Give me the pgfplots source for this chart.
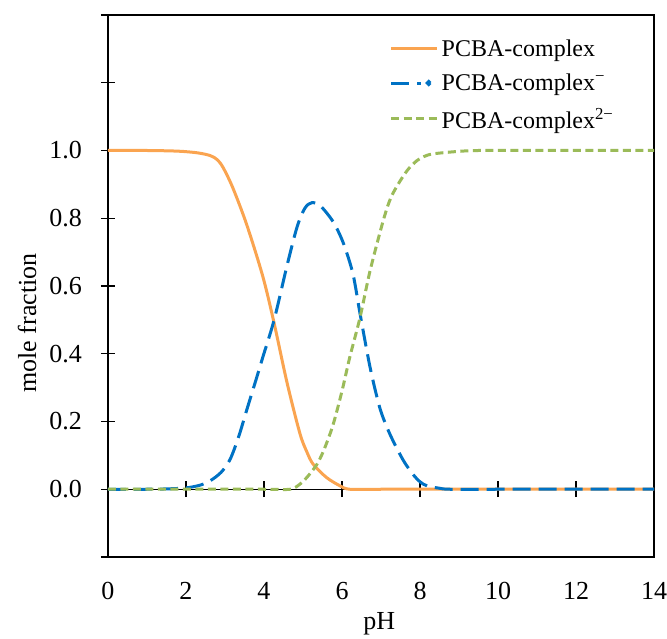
\documentclass[border=0pt]{standalone}
\usepackage{fontspec}
\setmainfont{Liberation Serif}
\usepackage{pgfplots}
\pgfplotsset{compat=1.18}
\definecolor{corange}{RGB}{250,164,80}
\definecolor{cblue}{RGB}{0,114,196}
\definecolor{cgreen}{RGB}{155,187,89}
\begin{document}
\begin{tikzpicture}[font=\fontsize{26}{30}\selectfont]
% baseline axis at y=0 with crossing ticks
\begin{axis}[
  scale only axis, width=546pt, height=542pt,
  xmin=0, xmax=14, ymin=-0.2, ymax=1.4,
  axis x line=middle, axis y line=none,
  axis line style={-, line width=0.9pt, black},
  xtick={2,4,6,8,10,12}, xticklabels={},
  ytick=\empty,
  tick align=center, major tick length=16pt,
  every tick/.style={black, line width=1.1pt},
]
\addplot[draw=none] coordinates {(0,0)};
\end{axis}
\begin{axis}[
  scale only axis, width=546pt, height=542pt,
  xmin=0, xmax=14, ymin=-0.2, ymax=1.4,
  axis line style={line width=2.7pt, black},
  xtick={0,2,...,14},
  xticklabels={0,2,4,6,8,10,12,14},
  x tick style={draw=none},
  xticklabel style={anchor=base, yshift=-35pt, inner sep=0pt},
  ytick={-0.2,0,0.2,0.4,0.6,0.8,1.0,1.2,1.4},
  yticklabels={{},0.0,0.2,0.4,0.6,0.8,1.0,{},{}},
  y tick style={black, line width=1.1pt},
  ytick pos=left,
  tick align=center, major tick length=14pt,
  yticklabel style={anchor=east, inner sep=0pt, xshift=-19pt},
  xlabel={pH}, ylabel={mole fraction},
  xlabel style={at={(axis description cs:0.497,-0.124)}, anchor=center},
  ylabel style={at={(axis description cs:-0.148,0.432)}, anchor=center},
  legend cell align=left,
  legend style={at={(axis description cs:0.512,0.962)}, anchor=north west,
    draw=none, fill=none, row sep=12pt, inner sep=2pt,
    font=\fontsize{24}{28}\selectfont,
    nodes={inner xsep=3pt}},
  legend image code/.code={\draw[#1] (0pt,0pt) -- (46pt,0pt);},
]
\addplot[corange, line width=3pt, smooth, tension=0.5] coordinates {
(0,1.0)(1,1.0)(1.8,0.998)(2.3,0.993)(2.62,0.985)(2.8,0.973)(2.95,0.95)(3.2,0.89)
(3.56,0.78)(3.97,0.628)(4.26,0.49)(4.59,0.315)(4.92,0.165)(5.1,0.11)(5.26,0.074)
(5.6,0.035)(5.95,0.01)(6.2,0.0)(7,0)(8,0)(10,0)(12,0)(14,0.0)};
\addlegendentry{PCBA-complex}
\addplot[cblue, line width=3pt, dash pattern=on 18pt off 8pt, smooth, tension=0.5,
  legend image code/.code={\draw[cblue, line width=3pt] (0pt,0pt) -- (30pt,0pt);
    \fill[cblue] (37.5pt,0pt) circle (1.6pt);}] coordinates {
(0,0)(1,0)(1.5,0.001)(2.0,0.004)(2.36,0.012)(2.62,0.025)(2.9,0.05)(3.13,0.088)(3.35,0.155)
(3.56,0.235)(3.8,0.325)(3.97,0.39)(4.26,0.5)(4.59,0.66)(4.85,0.775)(5.05,0.83)
(5.23,0.846)(5.45,0.836)(5.77,0.79)(6.03,0.728)(6.28,0.636)(6.46,0.52)(6.72,0.36)
(6.97,0.24)(7.2,0.17)(7.41,0.12)(7.6,0.08)(7.82,0.044)(8.0,0.022)(8.18,0.01)
(8.5,0.003)(8.77,0)(10,0)(12,0)(14,0)};
\addlegendentry{PCBA-complex\textsuperscript{−}}
\addplot[cgreen, line width=3pt, dash pattern=on 8pt off 4.5pt, smooth, tension=0.5] coordinates {
(0,0)(2,0)(4,0)(4.67,0)(4.92,0.015)(5.1,0.035)(5.36,0.074)(5.55,0.12)(5.77,0.19)(6.0,0.29)
(6.2,0.39)(6.46,0.506)(6.72,0.645)(7.05,0.79)(7.25,0.86)(7.49,0.91)(7.7,0.945)
(7.92,0.97)(8.1,0.982)(8.33,0.99)(8.95,0.997)(9.5,1.0)(11,1.0)(12.5,1.0)(14,1.0)};
\addlegendentry{PCBA-complex\textsuperscript{2−}}
\end{axis}
\path[use as bounding box] (-108pt,-78pt) rectangle (559pt,557pt);
\end{tikzpicture}
\end{document}
